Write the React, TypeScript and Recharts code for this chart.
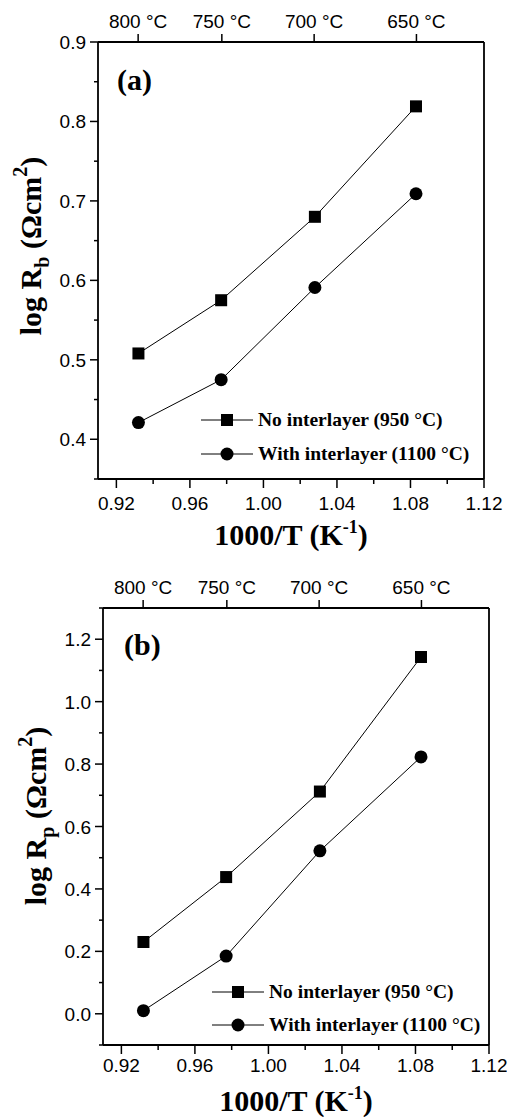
import React from "react";
import { LineChart, Line, XAxis, YAxis, Legend } from "recharts";

// 1000/T positions of the four measurements (K^-1)
const invT = [0.932, 0.977, 1.028, 1.083];

// panel (a): log Rb
const rbNoInterlayer = [0.508, 0.575, 0.68, 0.819];
const rbWithInterlayer = [0.421, 0.475, 0.591, 0.709];

// panel (b): log Rp
const rpNoInterlayer = [0.23, 0.438, 0.712, 1.143];
const rpWithInterlayer = [0.01, 0.185, 0.522, 0.823];

const seriesNames = ["No interlayer (950 °C)", "With interlayer (1100 °C)"];

const tempLabels = [800, 750, 700, 650];
const xMajor = [0.92, 0.96, 1.0, 1.04, 1.08, 1.12];
const xMinor = [0.94, 0.98, 1.02, 1.06, 1.1];
const rbMajor = [0.4, 0.5, 0.6, 0.7, 0.8, 0.9];
const rbMinor = [0.35, 0.45, 0.55, 0.65, 0.75, 0.85];
const rpMajor = [0, 0.2, 0.4, 0.6, 0.8, 1.0, 1.2];
const rpMinor = [-0.1, 0.1, 0.3, 0.5, 0.7, 0.9, 1.1, 1.3];

const SANS = "'Liberation Sans', Arial, sans-serif";
const SERIF = "'Liberation Serif', 'Times New Roman', serif";
const TICK_FS = 19;
const AXIS_W = 1.8;

const isIn = (v: number, arr: number[]) => arr.some((a) => Math.abs(a - v) < 1e-6);
const toInvT = (c: number) => 1000 / (c + 273.15);

const squareDot = (p: any) => (
  <rect key={`s${p.index}`} x={p.cx - 6} y={p.cy - 6} width={12} height={12} fill="#000" />
);
const circleDot = (p: any) => <circle key={`c${p.index}`} cx={p.cx} cy={p.cy} r={6.5} fill="#000" />;

interface PanelProps {
  tag: string;
  sub: string;
  noInter: number[];
  withInter: number[];
  yDomain: [number, number];
  yMajor: number[];
  yMinor: number[];
  yDigits: number;
  height: number;
  margin: { top: number; right: number; bottom: number; left: number };
  bottomLabelDy: number;
  yTitle: { x: number; y: number };
  tagPos: { x: number; y: number };
  legend: { x: number; y1: number; y2: number; tx: number };
}

function Panel(p: PanelProps) {
  const data = invT.map((x, i) => ({ x, no: p.noInter[i], with: p.withInter[i] }));

  const BottomTick = ({ x, y, payload }: any) => {
    const major = isIn(payload.value, xMajor);
    return (
      <g>
        <line x1={x} y1={y} x2={x} y2={y + (major ? 9 : 5)} stroke="#000" strokeWidth={1.5} />
        {major && (
          <text x={x} y={y + p.bottomLabelDy} textAnchor="middle" fontFamily={SANS} fontSize={TICK_FS} fill="#000">
            {payload.value.toFixed(2)}
          </text>
        )}
      </g>
    );
  };

  const TopTick = ({ x, y, payload }: any) => {
    const c = tempLabels.find((t) => Math.abs(toInvT(t) - payload.value) < 1e-6);
    return (
      <g>
        <line x1={x} y1={y} x2={x} y2={y - 8} stroke="#000" strokeWidth={1.5} />
        <text x={x} y={y - 14} textAnchor="middle" fontFamily={SANS} fontSize={TICK_FS} fill="#000">
          {c} °C
        </text>
      </g>
    );
  };

  const LeftTick = ({ x, y, payload }: any) => {
    const major = isIn(payload.value, p.yMajor);
    return (
      <g>
        <line x1={x - (major ? 8 : 4)} y1={y} x2={x} y2={y} stroke="#000" strokeWidth={1.5} />
        {major && (
          <text x={x - 12} y={y + 7} textAnchor="end" fontFamily={SANS} fontSize={TICK_FS} fill="#000">
            {payload.value.toFixed(p.yDigits)}
          </text>
        )}
      </g>
    );
  };

  const renderLegend = () => (
    <svg width={507} height={p.height} style={{ overflow: "visible", pointerEvents: "none" }}>
      {[p.legend.y1, p.legend.y2].map((ly, i) => (
        <g key={i}>
          <line x1={p.legend.x} y1={ly} x2={p.legend.x + 52} y2={ly} stroke="#000" strokeWidth={1} />
          {i === 0 ? (
            <rect x={p.legend.x + 20} y={ly - 6} width={12} height={12} fill="#000" />
          ) : (
            <circle cx={p.legend.x + 26} cy={ly} r={6.5} fill="#000" />
          )}
          <text x={p.legend.tx} y={ly + 6} fontFamily={SERIF} fontWeight="bold" fontSize={19.5} fill="#000">
            {seriesNames[i]}
          </text>
        </g>
      ))}
    </svg>
  );

  return (
    <LineChart width={507} height={p.height} data={data} margin={{ top: 0, right: 0, bottom: 0, left: 0 }}>
      <XAxis
        xAxisId="bottom"
        dataKey="x"
        type="number"
        domain={[0.91, 1.12]}
        allowDataOverflow
        ticks={[...xMajor, ...xMinor]}
        interval={0}
        height={p.margin.bottom}
        axisLine={{ stroke: "#000", strokeWidth: AXIS_W }}
        tickLine={false}
        tickSize={0}
        tickMargin={0}
        tick={<BottomTick />}
        label={{
          content: ({ viewBox }: any) => (
            <text
              x={viewBox.x + viewBox.width / 2}
              y={viewBox.y + 66}
              textAnchor="middle"
              fontFamily={SERIF}
              fontWeight="bold"
              fontSize={30}
              fill="#000"
            >
              1000/T (K
              <tspan fontSize={18} dy={-12}>-1</tspan>
              <tspan dy={12}>)</tspan>
            </text>
          ),
        }}
      />
      <XAxis
        xAxisId="top"
        orientation="top"
        dataKey="x"
        type="number"
        domain={[0.91, 1.12]}
        allowDataOverflow
        ticks={tempLabels.map(toInvT)}
        interval={0}
        height={p.margin.top}
        axisLine={{ stroke: "#000", strokeWidth: AXIS_W }}
        tickLine={false}
        tickSize={0}
        tickMargin={0}
        tick={<TopTick />}
        label={{
          content: () => (
            <text
              x={p.tagPos.x}
              y={p.tagPos.y}
              fontFamily={SERIF}
              fontWeight="bold"
              fontSize={30}
              fill="#000"
            >
              {p.tag}
            </text>
          ),
        }}
      />
      <YAxis
        yAxisId="left"
        type="number"
        domain={p.yDomain}
        allowDataOverflow
        ticks={[...p.yMajor, ...p.yMinor]}
        interval={0}
        width={p.margin.left}
        axisLine={{ stroke: "#000", strokeWidth: AXIS_W }}
        tickLine={false}
        tickSize={0}
        tickMargin={0}
        tick={<LeftTick />}
        label={{
          content: () => (
            <text
              x={p.yTitle.x}
              y={p.yTitle.y}
              transform={`rotate(-90, ${p.yTitle.x}, ${p.yTitle.y})`}
              textAnchor="middle"
              fontFamily={SERIF}
              fontWeight="bold"
              fontSize={30}
              fill="#000"
            >
              log R
              <tspan fontSize={20} dy={8}>{p.sub}</tspan>
              <tspan dy={-8}> (Ωcm</tspan>
              <tspan fontSize={20} dy={-14}>2</tspan>
              <tspan dy={14}>)</tspan>
            </text>
          ),
        }}
      />
      <YAxis
        yAxisId="right"
        orientation="right"
        type="number"
        domain={p.yDomain}
        allowDataOverflow
        width={p.margin.right}
        axisLine={{ stroke: "#000", strokeWidth: AXIS_W }}
        tick={false}
        tickLine={false}
      />
      <Legend
        layout="vertical"
        align="center"
        verticalAlign="middle"
        content={renderLegend}
        wrapperStyle={{ left: 0, top: 0, width: 507, height: p.height, pointerEvents: "none" }}
      />
      <Line
        xAxisId="bottom"
        yAxisId="left"
        dataKey="no"
        name={seriesNames[0]}
        type="linear"
        stroke="#000"
        strokeWidth={1}
        dot={squareDot}
        activeDot={false}
        isAnimationActive={false}
      />
      <Line
        xAxisId="bottom"
        yAxisId="left"
        dataKey="with"
        name={seriesNames[1]}
        type="linear"
        stroke="#000"
        strokeWidth={1}
        dot={circleDot}
        activeDot={false}
        isAnimationActive={false}
      />
    </LineChart>
  );
}

export default function App() {
  return (
    <div style={{ position: "absolute", left: 0, top: 0, width: 507, height: 1117, background: "#fff" }}>
      <div style={{ position: "absolute", left: 0, top: 0 }}>
        <Panel
          tag="(a)"
          sub="b"
          noInter={rbNoInterlayer}
          withInter={rbWithInterlayer}
          yDomain={[0.35, 0.9]}
          yMajor={rbMajor}
          yMinor={rbMinor}
          yDigits={1}
          height={560}
          margin={{ top: 42, right: 23, bottom: 81, left: 98 }}
          bottomLabelDy={31}
          yTitle={{ x: 41, y: 246 }}
          tagPos={{ x: 117, y: 90 }}
          legend={{ x: 201, y1: 420, y2: 454, tx: 258 }}
        />
      </div>
      <div style={{ position: "absolute", left: 0, top: 560 }}>
        <Panel
          tag="(b)"
          sub="p"
          noInter={rpNoInterlayer}
          withInter={rpWithInterlayer}
          yDomain={[-0.1, 1.3]}
          yMajor={rpMajor}
          yMinor={rpMinor}
          yDigits={1}
          height={557}
          margin={{ top: 48, right: 18, bottom: 72, left: 103 }}
          bottomLabelDy={27}
          yTitle={{ x: 46, y: 256 }}
          tagPos={{ x: 124, y: 95 }}
          legend={{ x: 212, y1: 432, y2: 465, tx: 269 }}
        />
      </div>
    </div>
  );
}
